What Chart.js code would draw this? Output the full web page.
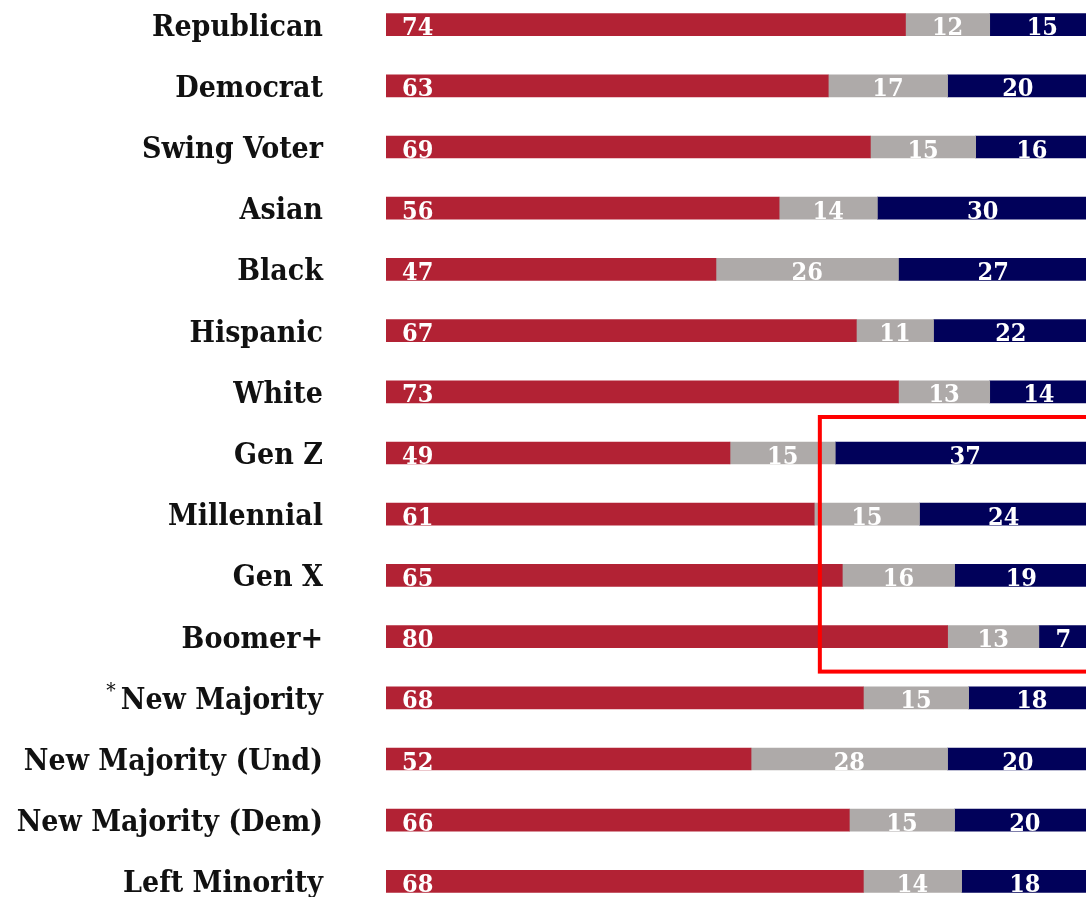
<!DOCTYPE html>
<html>
<head>
<meta charset="utf-8">
<script src="https://cdn.jsdelivr.net/npm/chart.js@4.4.1/dist/chart.umd.min.js"></script>
<style>
  html, body { margin: 0; padding: 0; background: #fff; overflow: hidden; }
  #wrap { position: absolute; left: 0; top: -6px; width: 1088px; height: 918px; }
</style>
</head>
<body>
<div id="wrap"><canvas id="chart"></canvas></div>
<script>
// Data
const categories = [
  'Republican', 'Democrat', 'Swing Voter', 'Asian', 'Black', 'Hispanic', 'White',
  'Gen Z', 'Millennial', 'Gen X', 'Boomer+', 'New Majority',
  'New Majority (Und)', 'New Majority (Dem)', 'Left Minority'
];
const redValues  = [74, 63, 69, 56, 47, 67, 73, 49, 61, 65, 80, 68, 52, 66, 68];
const grayValues = [12, 17, 15, 14, 26, 11, 13, 15, 15, 16, 13, 15, 28, 15, 14];
const navyValues = [15, 20, 16, 30, 27, 22, 14, 37, 24, 19, 7, 18, 20, 20, 18];
const starredCategory = 'New Majority';
const highlightRows = ['Gen Z', 'Boomer+'];

const COLORS = { red: '#b22234', gray: '#aeaaa9', navy: '#01015a' };
const SERIF = "'DejaVu Serif Condensed', 'DejaVu Serif', 'Liberation Serif', serif";
const AXIS_WIDTH = 386;
const LABEL_GAP = 63;
const LABEL_FONT = 'bold 30px ' + SERIF;
const VALUE_FONT = 'bold 25px ' + SERIF;

// Category labels (drawn by hand so the baseline sits on the bar bottom)
const categoryLabels = {
  id: 'categoryLabels',
  afterDraw(chart) {
    const ctx = chart.ctx;
    const yScale = chart.scales.y;
    const x = AXIS_WIDTH - LABEL_GAP;
    ctx.save();
    ctx.fillStyle = '#111';
    ctx.textAlign = 'right';
    ctx.textBaseline = 'alphabetic';
    categories.forEach((name, i) => {
      const y = yScale.getPixelForValue(i) + 11;
      ctx.font = LABEL_FONT;
      ctx.fillText(name, x, y);
      if (name === starredCategory) {
        const w = ctx.measureText(name).width;
        ctx.font = '21px ' + SERIF;
        ctx.fillText('*', x - w - 5, y - 12);
      }
    });
    ctx.restore();
  }
};

// Value labels drawn inside each bar segment
const valueLabels = {
  id: 'valueLabels',
  afterDatasetsDraw(chart) {
    const ctx = chart.ctx;
    ctx.save();
    ctx.fillStyle = '#fff';
    ctx.font = VALUE_FONT;
    ctx.textBaseline = 'alphabetic';
    chart.data.datasets.forEach((ds, di) => {
      const meta = chart.getDatasetMeta(di);
      meta.data.forEach((bar, i) => {
        const left = Math.min(bar.x, bar.base);
        const right = Math.max(bar.x, bar.base);
        const y = bar.y + bar.height / 2 - 0.5;
        if (di === 0) {
          ctx.textAlign = 'left';
          ctx.fillText(ds.data[i], left + 16, y);
        } else {
          ctx.textAlign = 'center';
          ctx.fillText(ds.data[i], (left + right) / 2, y);
        }
      });
    });
    ctx.restore();
  }
};

// Red highlight box around the generation rows
const highlightBox = {
  id: 'highlightBox',
  afterDraw(chart) {
    const ctx = chart.ctx;
    const yScale = chart.scales.y;
    const xScale = chart.scales.x;
    const top = yScale.getPixelForValue(categories.indexOf(highlightRows[0])) - 36;
    const bottom = yScale.getPixelForValue(categories.indexOf(highlightRows[1])) + 35;
    const left = xScale.getPixelForValue(61.8);
    ctx.save();
    ctx.strokeStyle = '#ff0000';
    ctx.lineWidth = 4;
    ctx.strokeRect(left, top, chart.width + 10 - left, bottom - top);
    ctx.restore();
  }
};

new Chart(document.getElementById('chart'), {
  type: 'bar',
  data: {
    labels: categories,
    datasets: [
      { data: redValues, backgroundColor: COLORS.red },
      { data: grayValues, backgroundColor: COLORS.gray },
      { data: navyValues, backgroundColor: COLORS.navy }
    ]
  },
  options: {
    indexAxis: 'y',
    responsive: true,
    maintainAspectRatio: false,
    animation: false,
    layout: { padding: 0 },
    datasets: {
      bar: { barThickness: 22, borderWidth: 0 }
    },
    plugins: {
      legend: { display: false },
      tooltip: { enabled: false }
    },
    scales: {
      x: {
        stacked: true,
        min: 0,
        max: 100,
        display: false
      },
      y: {
        stacked: true,
        border: { display: false },
        grid: { display: false, drawTicks: false },
        afterFit(scale) {
          scale.width = AXIS_WIDTH;
          scale.paddingTop = 0;
          scale.paddingBottom = 0;
        },
        ticks: { display: false }
      }
    }
  },
  plugins: [valueLabels, categoryLabels, highlightBox]
});
</script>
</body>
</html>
